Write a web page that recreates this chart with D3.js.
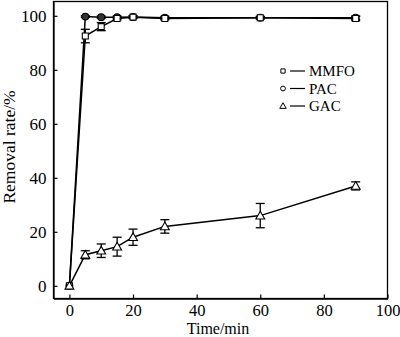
<!DOCTYPE html>
<html><head><meta charset="utf-8">
<script src="https://cdn.jsdelivr.net/npm/d3@7"></script>
<style>body{margin:0;background:#fff}svg{display:block}
text{font-family:"Liberation Serif","DejaVu Serif",serif !important;}</style>
</head><body>
<script>
const times = [0, 5, 10, 15, 20, 30, 60, 90];
const mmfo = [0, 92.5, 96, 99, 99.5, 99, 99.3, 99];
const mmfoErr = [0, 2.5, 1.5, 0.5, 0.5, 0.5, 0.5, 0.8];
const pac = [0, 99.7, 99.5, 99.5, 99.6, 99.3, 99.3, 99.3];
const pacErr = [0, 0.3, 0.4, 0.4, 0.4, 0.5, 0.4, 0.6];
const gac = [0, 11.5, 13, 14.5, 18, 22, 26, 37];
const gacErr = [0, 1.5, 2.5, 3.5, 3, 2.5, 4.5, 1.5];
const xTicks = [0, 20, 40, 60, 80, 100];
const yTicks = [0, 20, 40, 60, 80, 100];
const seriesNames = ["MMFO", "PAC", "GAC"];

const W = 400, H = 337;
const m = {left: 53.5, right: 12.5, top: 1.5, bottom: 38.5};
const svg = d3.select("body").append("svg").attr("width", W).attr("height", H);
const x = d3.scaleLinear().domain([-5, 100]).range([m.left, W - m.right]);
const y = d3.scaleLinear().domain([-4.7, 105.3]).range([H - m.bottom, m.top]);
const font = "Liberation Serif";

// frame
svg.append("rect").attr("x", m.left).attr("y", m.top)
  .attr("width", W - m.right - m.left).attr("height", H - m.bottom - m.top)
  .attr("fill", "none").attr("stroke", "#000").attr("stroke-width", 1.3);

const xAxis = svg.append("g").attr("transform", `translate(0,${H - m.bottom})`)
  .call(d3.axisBottom(x).tickValues(xTicks).tickSizeInner(-4).tickSizeOuter(0).tickPadding(6));
const yAxis = svg.append("g").attr("transform", `translate(${m.left},0)`)
  .call(d3.axisLeft(y).tickValues(yTicks).tickSizeInner(-4).tickSizeOuter(0).tickPadding(7));
[xAxis, yAxis].forEach(g => {
  g.attr("font-family", null);
  g.select(".domain").attr("stroke", "#000").attr("stroke-width", 1.3);
  g.selectAll(".tick line").attr("stroke", "#000").attr("stroke-width", 1.2);
  g.selectAll(".tick text").style("font-family", font).attr("font-size", 17).attr("fill", "#000");
});
xAxis.selectAll(".tick text").attr("font-size", 16.5);

svg.append("text").attr("x", 218).attr("y", 333.5)
  .attr("text-anchor", "middle").style("font-family", font).attr("font-size", 16).text("Time/min");
svg.append("text").attr("transform", `translate(15,147) rotate(-90)`)
  .attr("text-anchor", "middle").style("font-family", font).attr("font-size", 17.5).text("Removal rate/%");

const series = [
  {name: "MMFO", vals: mmfo, err: mmfoErr, sym: d3.symbolSquare, size: 36},
  {name: "PAC", vals: pac, err: pacErr, sym: d3.symbolCircle, size: 36},
  {name: "GAC", vals: gac, err: gacErr, sym: d3.symbolTriangle, size: 34}
];
const line = d3.line().x(d => x(d[0])).y(d => y(d[1]));

[series[1], series[0], series[2]].forEach(s => {
  const pts = times.map((t, i) => [t, s.vals[i], s.err[i]]);
  svg.append("path").datum(pts).attr("d", line).attr("fill", "none")
    .attr("stroke", "#000").attr("stroke-width", 1.5);
  const eb = svg.append("g");
  pts.filter(p => p[2] > 0).forEach(p => {
    const cx = x(p[0]), y1 = y(p[1] - p[2]), y2 = y(p[1] + p[2]);
    eb.append("line").attr("x1", cx).attr("x2", cx).attr("y1", y1).attr("y2", y2).attr("stroke", "#000").attr("stroke-width", 1.3);
    [y1, y2].forEach(yy => eb.append("line").attr("x1", cx - 4.5).attr("x2", cx + 4.5).attr("y1", yy).attr("y2", yy).attr("stroke", "#000").attr("stroke-width", 1.3));
  });
  svg.append("g").selectAll("path").data(pts).join("path")
    .attr("d", d3.symbol().type(s.sym).size(s.size))
    .attr("transform", d => `translate(${x(d[0])},${y(d[1]) + (s.sym === d3.symbolTriangle ? 0.8 : 0)})`)
    .attr("fill", s.name === "PAC" ? "#333" : "#fff").attr("stroke", "#000").attr("stroke-width", 1.1);
});

// legend
const leg = svg.append("g");
series.forEach((s, i) => {
  const yy = 71 + i * 17.5;
  leg.append("path").attr("d", d3.symbol().type(s.sym).size(18))
    .attr("transform", `translate(283,${yy + (s.sym === d3.symbolTriangle ? 0.5 : 0)})`)
    .attr("fill", "#fff").attr("stroke", "#000").attr("stroke-width", 1);
  leg.append("line").attr("x1", 290).attr("x2", 305).attr("y1", yy).attr("y2", yy)
    .attr("stroke", "#000").attr("stroke-width", 1.2);
  leg.append("text").attr("x", 309).attr("y", yy + 5).style("font-family", font)
    .attr("font-size", 15).text(s.name);
});
</script>
</body></html>
